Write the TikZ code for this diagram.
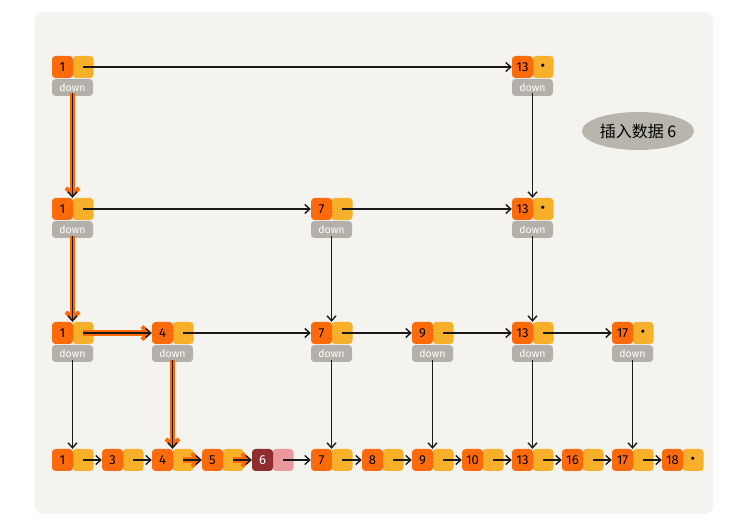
\documentclass[tikz,border=0pt]{standalone}
\usepackage{fontspec}
\setmainfont{Fira Sans}
\newfontfamily\cjk{Noto Sans CJK SC}
\usetikzlibrary{arrows.meta,shapes.geometric,calc}
\definecolor{panel}{HTML}{F4F3EF}
\definecolor{valc}{HTML}{FF6B08}
\definecolor{ptrc}{HTML}{F8B02A}
\definecolor{downc}{HTML}{B3B0A9}
\definecolor{hlc}{HTML}{FF6A00}
\definecolor{newv}{HTML}{8E2C2E}
\definecolor{newp}{HTML}{E9999A}
\definecolor{bub}{HTML}{B8B5AD}
\tikzset{
  valbox/.style={fill=valc, rounded corners=3.5, minimum width=21, minimum height=22, inner sep=0, font=\fontsize{13}{13}\selectfont},
  ptrbox/.style={fill=ptrc, rounded corners=3.5, minimum width=21, minimum height=22, inner sep=0, font=\fontsize{14}{14}\selectfont},
  downbox/.style={fill=downc, rounded corners=3.5, minimum width=41, minimum height=17, inner sep=0, text=white, font=\fontsize{10.5}{10.5}\selectfont},
  arr/.style={draw=black!90, line width=1.5, -{Straight Barb[length=5,width=9,line width=1.4]}},
  hl/.style={arr, preaction={draw=hlc, line width=5.5, -{Straight Barb[length=7,width=13,line width=4]}}},
  bubble/.style={ellipse, fill=bub, minimum width=112, minimum height=38, inner sep=0, font=\cjk\fontsize{16}{16}\selectfont}
}
\newcommand\skn[5]{%
  \node[ptrbox] (#1p) at (#2+31,#3) {#5};
  \node[valbox] (#1v) at (#2+10.5,#3) {#4};
}
\newcommand\skd[3]{\node[downbox] (#1d) at (#2+20.5,#3+20.5) {down};}
\newcommand\dotp{\textbullet}
\begin{document}
\begin{tikzpicture}[x=1pt,y=-1pt]
\useasboundingbox (0,0) rectangle (737,526);
\fill[white] (0,0) rectangle (737,526);
\fill[panel, rounded corners=8] (35,12) rectangle (713,514);

% level 1
\skn{a1}{52}{67}{1}{} \skd{a1}{52}{67}
\skn{a13}{512}{67}{13}{\dotp} \skd{a13}{512}{67}
% level 2
\skn{b1}{52}{209}{1}{} \skd{b1}{52}{209}
\skn{b7}{311}{209}{7}{} \skd{b7}{311}{209}
\skn{b13}{512}{209}{13}{\dotp} \skd{b13}{512}{209}
% level 3
\skn{c1}{52}{333}{1}{} \skd{c1}{52}{333}
\skn{c4}{152}{333}{4}{} \skd{c4}{152}{333}
\skn{c7}{311}{333}{7}{} \skd{c7}{311}{333}
\skn{c9}{412}{333}{9}{} \skd{c9}{412}{333}
\skn{c13}{512}{333}{13}{} \skd{c13}{512}{333}
\skn{c17}{612}{333}{17}{\dotp} \skd{c17}{612}{333}
% bottom
\skn{d1}{52}{460}{1}{}
\skn{d3}{102}{460}{3}{}
\skn{d4}{152}{460}{4}{}
\skn{d5}{202}{460}{5}{}
\node[ptrbox, fill=newp] (d6p) at (252+31,460) {};
\node[valbox, fill=newv, text=white] (d6v) at (252+10.5,460) {6};
\skn{d7}{311}{460}{7}{}
\skn{d8}{362}{460}{8}{}
\skn{d9}{412}{460}{9}{}
\skn{d10}{462}{460}{10}{}
\skn{d13}{512}{460}{13}{}
\skn{d16}{562}{460}{16}{}
\skn{d17}{612}{460}{17}{}
\skn{d18}{662}{460}{18}{\dotp}

\node[bubble] (bubble) at (638,131) {插入数据 6};

% horizontal links
\draw[arr] (a1p.center) -- (a13v.west);
\draw[arr] (b1p.center) -- (b7v.west);
\draw[arr] (b7p.center) -- (b13v.west);
\draw[hl] (c1p.center) -- (c4v.west);
\draw[arr] (c4p.center) -- (c7v.west);
\draw[arr] (c7p.center) -- (c9v.west);
\draw[arr] (c9p.center) -- (c13v.west);
\draw[arr] (c13p.center) -- (c17v.west);
\draw[arr] (d1p.center) -- (d3v.west);
\draw[arr] (d3p.center) -- (d4v.west);
\draw[hl] (d4p.center) -- (d5v.west);
\draw[hl] (d5p.center) -- (d6v.west);
\draw[arr] (d6p.center) -- (d7v.west);
\draw[arr] (d7p.center) -- (d8v.west);
\draw[arr] (d8p.center) -- (d9v.west);
\draw[arr] (d9p.center) -- (d10v.west);
\draw[arr] (d10p.center) -- (d13v.west);
\draw[arr] (d13p.center) -- (d16v.west);
\draw[arr] (d16p.center) -- (d17v.west);
\draw[arr] (d17p.center) -- (d18v.west);

% vertical links
\draw[hl] ([yshift=3]a1d.south) -- (a1d.south |- b1v.north);
\draw[arr] ([yshift=3]a13d.south) -- (a13d.south |- b13v.north);
\draw[hl] ([yshift=2]b1d.south) -- (b1d.south |- c1v.north);
\draw[arr] ([yshift=2]b7d.south) -- (b7d.south |- c7v.north);
\draw[arr] ([yshift=2]b13d.south) -- (b13d.south |- c13v.north);
\draw[arr] ([yshift=2]c1d.south) -- (c1d.south |- d1v.north);
\draw[hl] ([yshift=2]c4d.south) -- (c4d.south |- d4v.north);
\draw[arr] ([yshift=2]c7d.south) -- (c7d.south |- d7v.north);
\draw[arr] ([yshift=2]c9d.south) -- (c9d.south |- d9v.north);
\draw[arr] ([yshift=2]c13d.south) -- (c13d.south |- d13v.north);
\draw[arr] ([yshift=2]c17d.south) -- (c17d.south |- d17v.north);
\end{tikzpicture}
\end{document}
